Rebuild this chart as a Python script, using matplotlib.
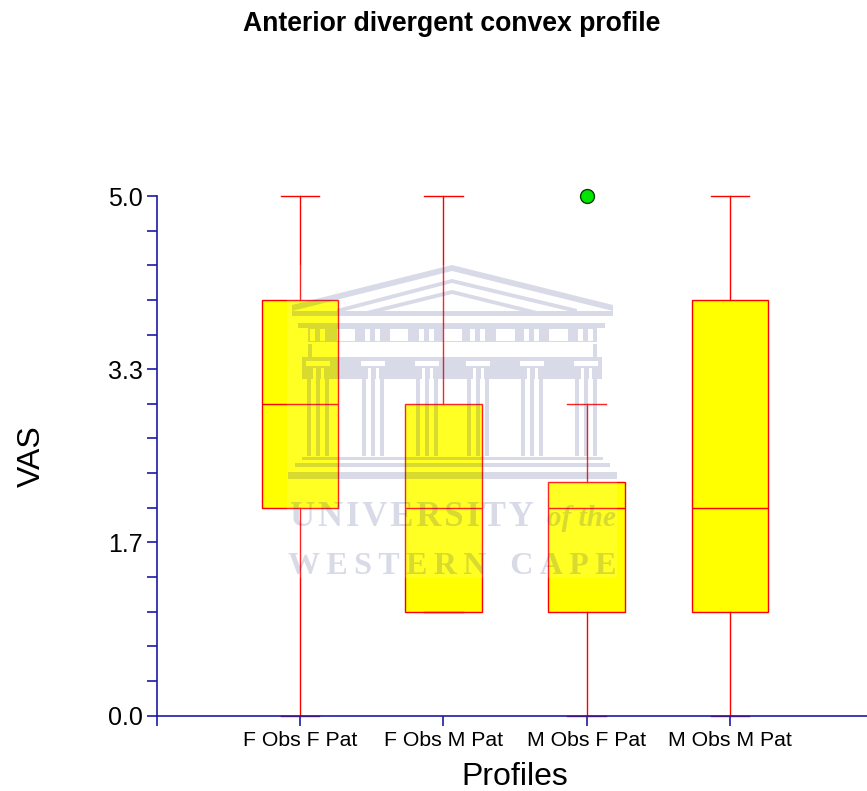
#!/usr/bin/env python3
# Box plot of VAS scores per profile, with the faded university crest on top

import matplotlib
matplotlib.use('Agg')
from matplotlib import pyplot as plt
from matplotlib.patches import PathPatch, Rectangle
from matplotlib.path import Path

plt.rcParams['font.family'] = ['Liberation Sans', 'DejaVu Sans']

# data
profiles = ['F Obs F Pat', 'F Obs M Pat', 'M Obs F Pat', 'M Obs M Pat']
whisker_low = [0.0, 1.0, 0.0, 0.0]
q1 = [2.0, 1.0, 1.0, 1.0]
median = [3.0, 2.0, 2.0, 2.0]
q3 = [4.0, 3.0, 2.25, 4.0]
whisker_high = [5.0, 5.0, 3.0, 5.0]
outliers = [[], [], [5.0], []]

y_major = [0.0, 5 / 3, 10 / 3, 5.0]
y_major_labels = ['0.0', '1.7', '3.3', '5.0']
y_minor = [i / 3 for i in range(16)]

AXIS = '#1a1aa6'
RED = '#ff0000'

fig = plt.figure(figsize=(8.67, 7.91), dpi=100)
ax = fig.add_axes([156.7 / 867, 75.5 / 791, 710.3 / 867, 519.5 / 791])

stats = []
for i, name in enumerate(profiles):
    stats.append({'label': name, 'whislo': whisker_low[i], 'q1': q1[i],
                  'med': median[i], 'q3': q3[i], 'whishi': whisker_high[i],
                  'fliers': outliers[i]})

line = {'color': RED, 'linewidth': 1.0}
ax.bxp(stats, positions=[1, 2, 3, 4], widths=0.535, capwidths=0.27,
       patch_artist=True,
       boxprops={'facecolor': '#ffff00', 'edgecolor': RED, 'linewidth': 1.0},
       medianprops=line, whiskerprops=line, capprops=line,
       flierprops={'marker': 'o', 'markersize': 10,
                   'markerfacecolor': '#00e600',
                   'markeredgecolor': '#004000', 'markeredgewidth': 1.0})
for art in ax.get_children():
    art.set_clip_on(False)

ax.set_xlim(0, 710.3 / 143.3)
ax.set_ylim(0, 5)

for side in ['top', 'right']:
    ax.spines[side].set_visible(False)
for side in ['left', 'bottom']:
    ax.spines[side].set_color(AXIS)
    ax.spines[side].set_linewidth(1.2)

ax.set_xticks([0, 1, 2, 3, 4])
ax.set_xticklabels([''] + profiles, fontsize=15.3)
ax.set_yticks(y_major)
ax.set_yticklabels(y_major_labels, fontsize=18, va='center_baseline')
ax.set_yticks(y_minor, minor=True)
ax.tick_params(axis='both', which='both', color=AXIS, width=1.2, length=7)
ax.tick_params(axis='x', pad=4)
ax.tick_params(axis='y', pad=3)

ax.set_xlabel('Profiles', fontsize=23, labelpad=9)
ax.xaxis.label.set_x(358 / 710.3)
ax.set_ylabel('VAS', fontsize=23, labelpad=44)
fig.text(452 / 867, 1 - 24 / 791, 'Anterior divergent convex profile',
         fontsize=19.2, fontweight='bold', ha='center', va='center')

# watermark layer, in picture pixels
wm = fig.add_axes([0, 0, 1, 1], zorder=10)
wm.set_xlim(0, 867)
wm.set_ylim(791, 0)
wm.axis('off')
wm.patch.set_alpha(0)

wm.add_patch(Rectangle((287, 265), 330, 313, facecolor='white', alpha=0.14,
                       edgecolor='none'))

verts, codes = [], []


def poly(points):
    verts.extend(points + [points[0]])
    codes.extend([Path.MOVETO] + [Path.LINETO] * (len(points) - 1)
                 + [Path.CLOSEPOLY])


def rect(x0, y0, x1, y1):
    poly([(x0, y0), (x1, y0), (x1, y1), (x0, y1)])


def hole(x0, y0, x1, y1):
    poly([(x0, y0), (x0, y1), (x1, y1), (x1, y0)])


def band(x0, y0, x1, y1, t):
    # sloped stripe of the pediment
    poly([(x0, y0), (x1, y1), (x1, y1 + t), (x0, y0 + t)])


# pediment
band(292, 305, 452, 265, 6)
band(452, 265, 613, 305, 6)
band(337, 309, 452, 279, 4)
band(452, 279, 577, 309, 4)
band(367, 311, 452, 290, 4)
band(452, 290, 537, 311, 4)
rect(292, 311, 613, 316)
# cornice and frieze
rect(298, 323, 605, 328)
rect(308, 328, 597, 342)
windows = [(337, 355), (390, 408), (443, 462), (496, 515), (549, 568)]
for x0, x1 in windows:
    hole(x0, 329, x1, 341)
col_centres = [318, 373, 427, 478, 532, 586]
for c in col_centres:
    hole(c - 8, 329, c - 3, 341)
    hole(c + 2, 329, c + 7, 341)
rect(308, 344, 312, 357)
rect(593, 344, 597, 357)
# colonnade head
rect(302, 357, 602, 379)
for c in col_centres:
    hole(c - 12, 361, c + 12, 366)
    hole(c - 5, 368, c - 2, 379)
    hole(c + 3, 368, c + 6, 379)
# columns
for c in col_centres:
    for dx in (-11, -2, 7):
        rect(c + dx, 379, c + dx + 4, 456)
# steps
rect(302, 457, 603, 460)
rect(295, 463, 610, 467)
rect(288, 472, 617, 479)

wm.add_patch(PathPatch(Path(verts, codes), facecolor='#1a2673',
                       edgecolor='none', alpha=0.17))

serif = {'family': 'Liberation Serif', 'color': '#1a2673', 'alpha': 0.17,
         'va': 'center', 'ha': 'left', 'fontweight': 'bold'}
wm.text(290, 518, '\u200a'.join('UNIVERSITY'), fontsize=25, **serif)
wm.text(547, 519, 'of the', fontsize=21, fontstyle='italic', **serif)
wm.text(288, 566, '\u2009'.join('WESTERN') + '   ' + '\u2009'.join('CAPE'),
        fontsize=23, **serif)

fig.savefig('out.png', dpi=100)
